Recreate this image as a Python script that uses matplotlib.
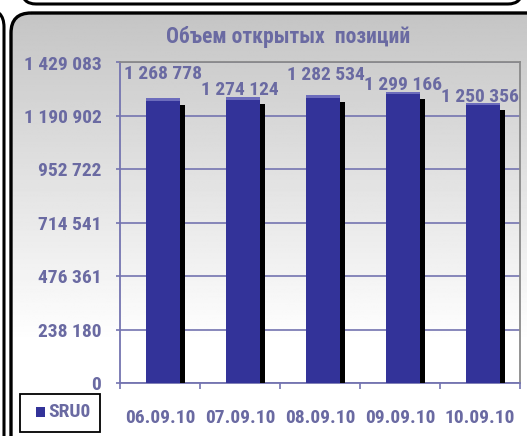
import matplotlib
matplotlib.use("Agg")
import matplotlib.pyplot as plt
import numpy as np
from matplotlib.patches import FancyBboxPatch, Rectangle

categories = ["06.09.10", "07.09.10", "08.09.10", "09.09.10", "10.09.10"]
values = [1268778, 1274124, 1282534, 1299166, 1250356]
value_labels = ["1 268 778", "1 274 124", "1 282 534", "1 299 166", "1 250 356"]
ytick_values = [0, 238180, 476361, 714541, 952722, 1190902, 1429083]
ytick_labels = ["0", "238 180", "476 361", "714 541", "952 722", "1 190 902", "1 429 083"]
series_name = "SRU0"
title = "Объем открытых  позиций"

# label offsets in pixels (dx, dy) relative to bar top
label_offsets = [(3, 24), (0, 7), (6, 20), (3, 7), (0, 6)]

W, H = 527, 436
fig = plt.figure(figsize=(W / 100, H / 100), dpi=100)
fig.patch.set_facecolor("white")

txt = "#6a6aa2"
axcol = "#7474b0"
barcol = "#333399"
font = ["Roboto Condensed", "Liberation Sans", "DejaVu Sans"]
fs = 14

# background layer
bg = fig.add_axes([0, 0, 1, 1])
bg.set_xlim(0, W)
bg.set_ylim(H, 0)
bg.axis("off")
bg.add_patch(FancyBboxPatch((-200, 9), 204, 600, boxstyle="round,pad=0,rounding_size=18",
                            fc="white", ec="black", lw=2.2))
bg.add_patch(FancyBboxPatch((22, -100), 500, 104, boxstyle="round,pad=0,rounding_size=14",
                            fc="white", ec="black", lw=2.2))
panel = FancyBboxPatch((11, 13), 560, 500, boxstyle="round,pad=0,rounding_size=20",
                       fc="none", ec="black", lw=2.4, zorder=3)
bg.add_patch(panel)
grad = np.linspace(0.77, 1.0, 256)
grad = np.clip(np.concatenate([grad, np.ones(60)]), 0, 1)
img = np.repeat(grad[:, None], 2, axis=1)
im = bg.imshow(img, cmap="gray", vmin=0, vmax=1, extent=[11, 571, 420, 13], aspect="auto", zorder=1)
im.set_clip_path(panel)
bg.imshow(np.ones((2, 2)), cmap="gray", vmin=0, vmax=1, extent=[11, 571, 513, 419],
          aspect="auto", zorder=1).set_clip_path(panel)

# main axes
ax = fig.add_axes([120 / W, (H - 383) / H, 400 / W, (383 - 62.5) / H])
ax.patch.set_alpha(0)
x = np.arange(len(categories))
ymax = ytick_values[-1]
ax.set_xlim(-0.5, len(categories) - 0.5)
ax.set_ylim(0, ymax)

bw = 0.43
off = 0.04
px = 1 / 80.0
py = ymax / 320.0
ax.bar(x + off + bw / 2 + 2 * px, np.array(values) - 5 * py, width=4.5 * px, bottom=-2 * py,
       color="black", zorder=3)
ax.bar(x + off, values, width=bw, color=barcol, zorder=4, bottom=0)
ax.bar(x + off, [2.5 * py] * len(values), bottom=np.array(values) - 2.5 * py, width=bw,
       color="#6c6cbc", zorder=5)

for i, (v, lab) in enumerate(zip(values, value_labels)):
    ax.annotate(lab, (x[i], v), xytext=label_offsets[i], textcoords="offset pixels",
                ha="center", va="center", fontsize=fs, fontweight="bold", color=txt,
                family=font, zorder=6)

ax.set_yticks(ytick_values)
ax.set_yticklabels(ytick_labels)
ax.set_xticks(x)
ax.set_xticklabels(categories)
ax.set_xticks(np.arange(-0.5, len(categories)), minor=True)
ax.tick_params(axis="x", which="major", length=0, pad=19)
ax.tick_params(axis="x", which="minor", length=4.5, color=axcol, width=1.2)
ax.tick_params(axis="y", length=3, color=axcol, width=1.2, pad=10.5)
for lab in ax.get_xticklabels() + ax.get_yticklabels():
    lab.set_fontsize(fs)
    lab.set_fontweight("bold")
    lab.set_color(txt)
    lab.set_family(font)

ax.yaxis.grid(True, color=axcol, lw=1.2, zorder=0)
ax.set_axisbelow(True)
for s in ["left", "bottom"]:
    ax.spines[s].set_color(axcol)
    ax.spines[s].set_linewidth(1.3)
for s in ["top", "right"]:
    ax.spines[s].set_color("#8a8a8a")
    ax.spines[s].set_linewidth(1.3)

fig.text(288 / W, 1 - 37 / H, title, ha="center", va="center", fontsize=15.5,
         fontweight="bold", color=txt, family=font)

# legend box
bg.add_patch(Rectangle((20, 394), 80, 38, fc="white", ec="black", lw=1.3, zorder=5))
bg.add_patch(Rectangle((36, 407), 9, 10, fc=barcol, ec="none", zorder=6))
bg.text(48, 412, series_name, ha="left", va="center", fontsize=fs, fontweight="bold",
        color=txt, family=font, zorder=6)

fig.savefig("out.png", dpi=100)
